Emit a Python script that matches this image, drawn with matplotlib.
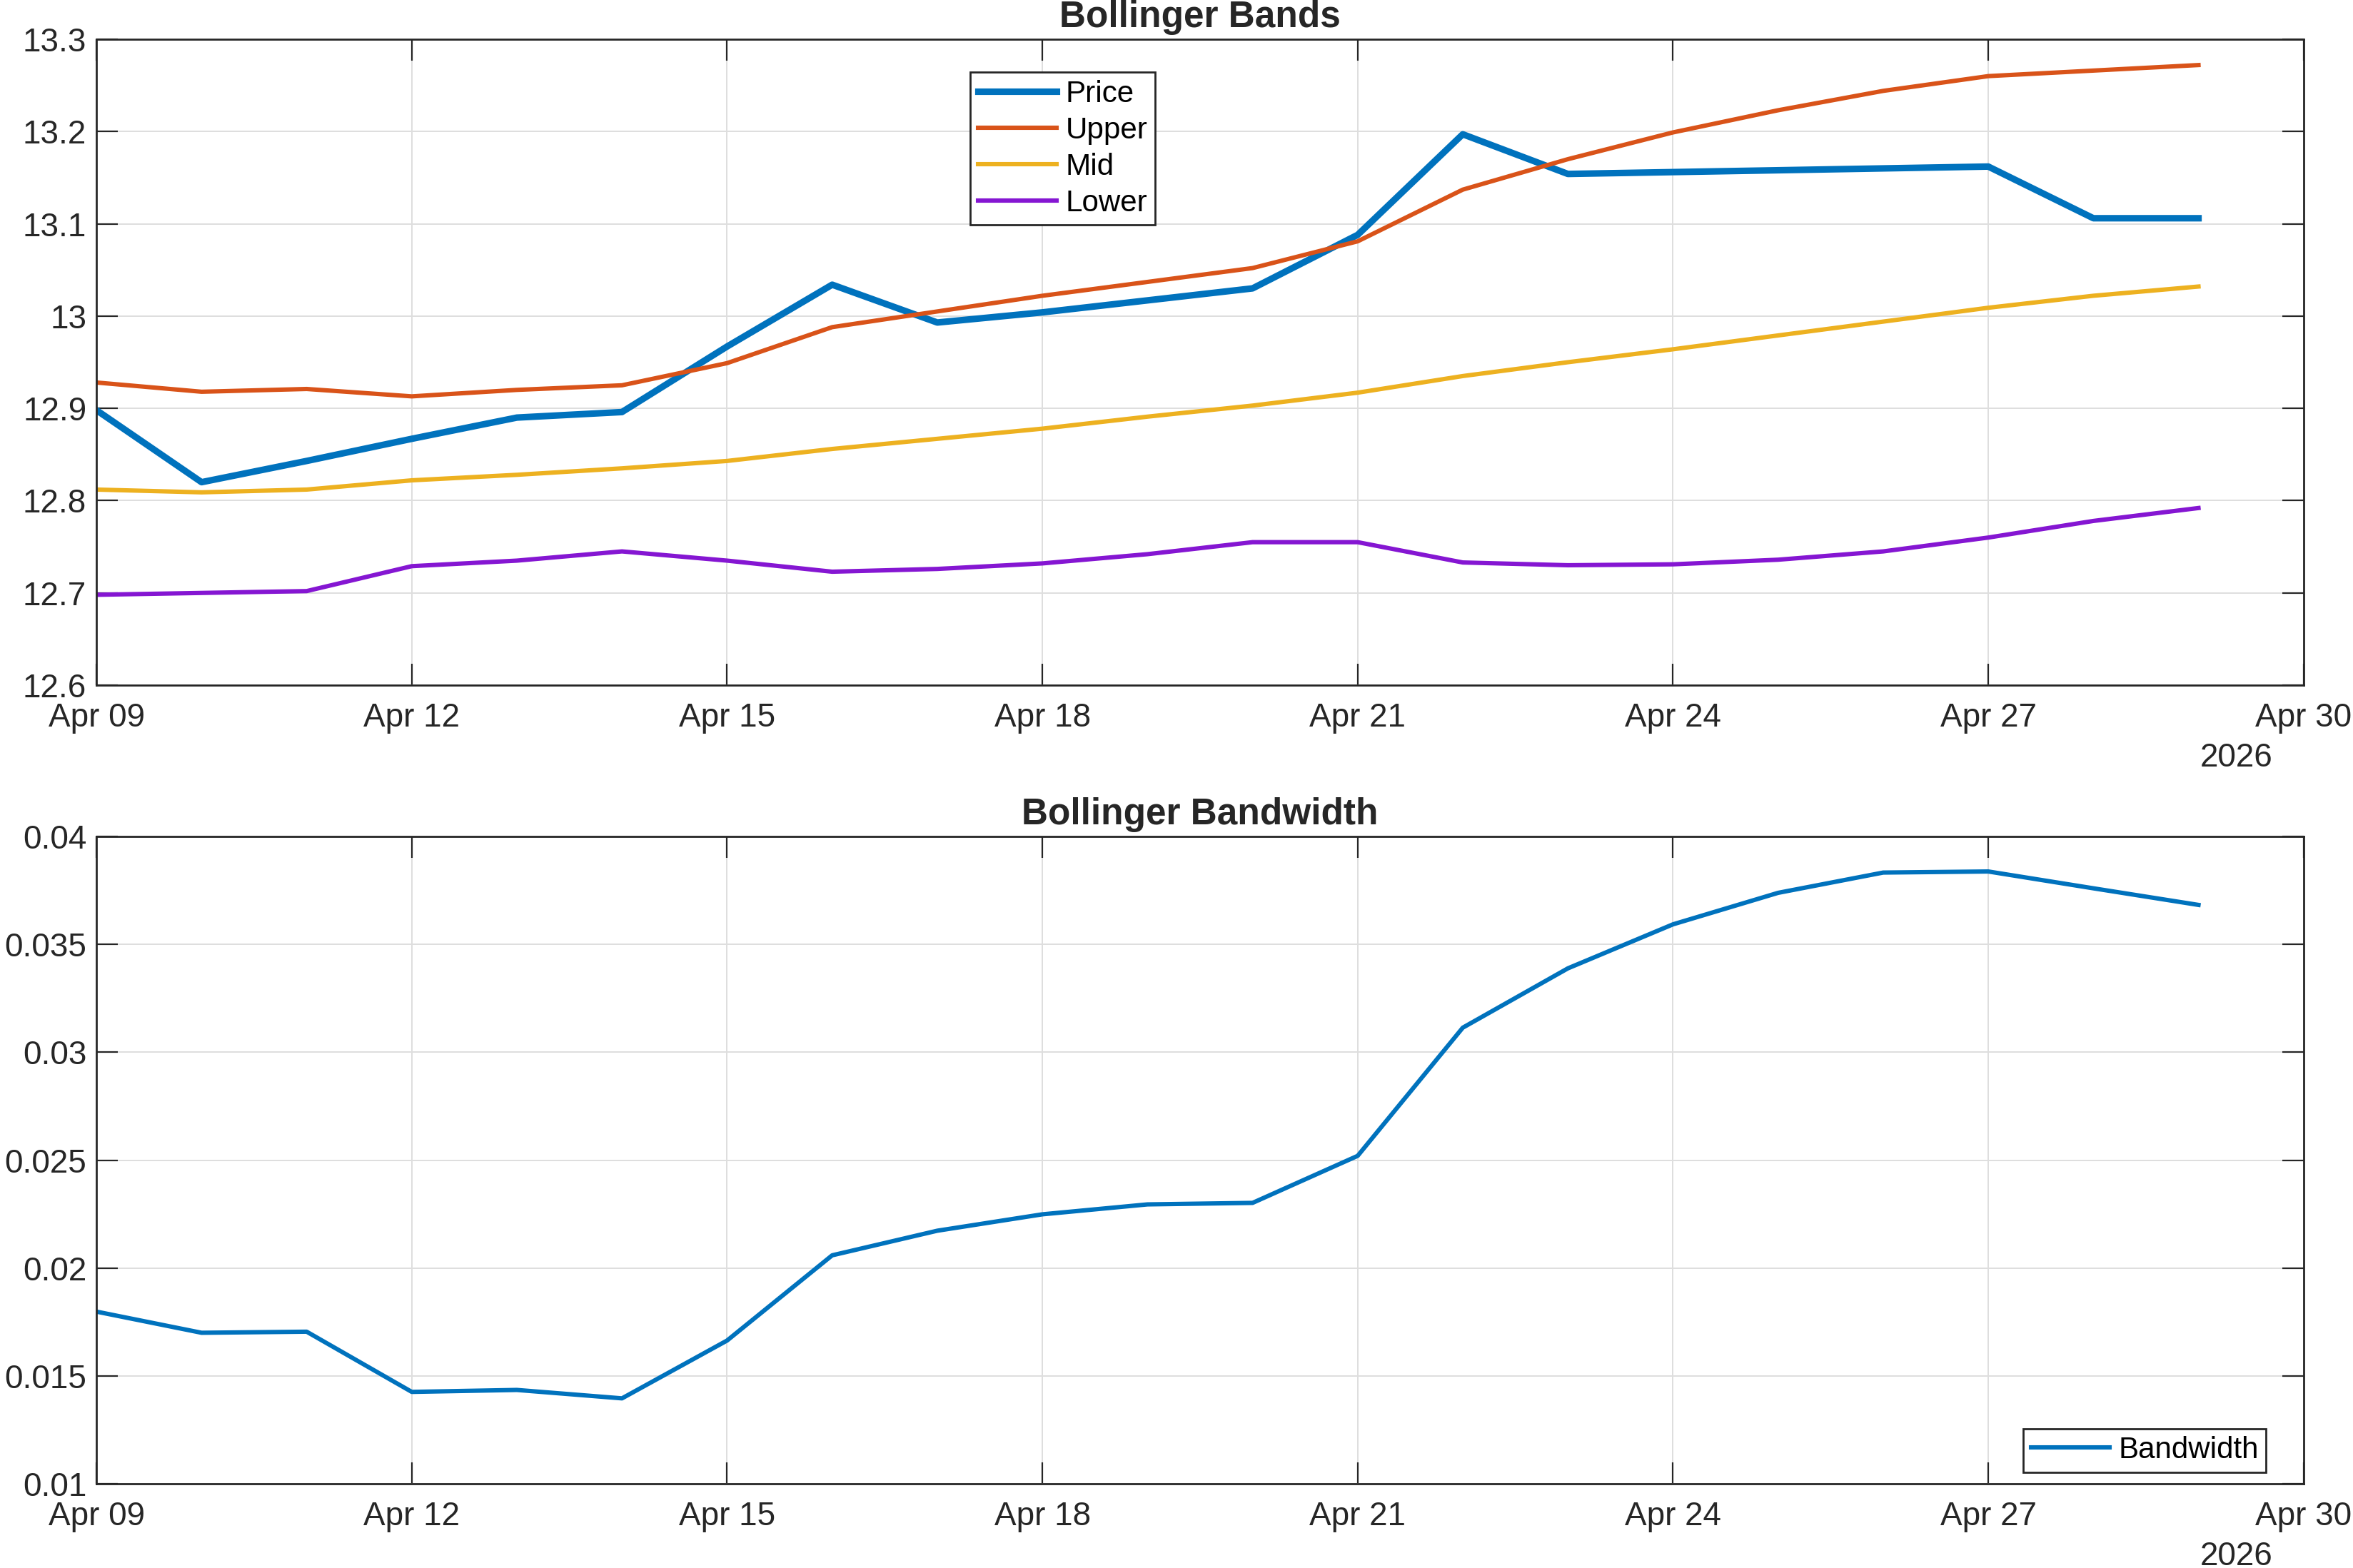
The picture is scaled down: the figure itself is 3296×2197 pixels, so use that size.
import matplotlib
matplotlib.use("Agg")
import matplotlib.pyplot as plt
import matplotlib.dates as mdates
import numpy as np
import pandas as pd

plt.rcParams["font.family"] = ["Liberation Sans", "DejaVu Sans"]

# --------------------------------------------------------------------------
# Data
# --------------------------------------------------------------------------
dates = pd.date_range("2026-04-09", "2026-04-29", freq="D")

price = [12.898, 12.820, 12.843, 12.867, 12.890, 12.896, 12.967, 13.034, 12.993,
         13.004, 13.017, 13.030, 13.088, 13.197, 13.154, 13.156, 13.158, 13.160,
         13.162, 13.106, 13.106]
upper = [12.928, 12.918, 12.921, 12.913, 12.920, 12.925, 12.949, 12.988, 13.005,
         13.022, 13.037, 13.052, 13.081, 13.137, 13.170, 13.199, 13.223, 13.244,
         13.260, 13.266, 13.272]
mid = [12.812, 12.809, 12.812, 12.822, 12.828, 12.835, 12.843, 12.856, 12.867,
       12.878, 12.891, 12.903, 12.917, 12.935, 12.950, 12.964, 12.979, 12.994,
       13.009, 13.022, 13.032]
lower = [12.698, 12.700, 12.702, 12.729, 12.735, 12.745, 12.735, 12.723, 12.726,
         12.732, 12.742, 12.755, 12.755, 12.733, 12.730, 12.731, 12.736, 12.745,
         12.760, 12.778, 12.792]
bandwidth = [0.01798, 0.01700, 0.01705, 0.01426, 0.01435, 0.01396, 0.01664, 0.02059,
             0.02173, 0.02249, 0.02295, 0.02302, 0.02520, 0.03114, 0.03389, 0.03593,
             0.03739, 0.03833, 0.03838, 0.03760, 0.03683]

xticks = pd.date_range("2026-04-09", "2026-04-30", freq="3D")
top_yticks = [12.6, 12.7, 12.8, 12.9, 13.0, 13.1, 13.2, 13.3]
top_yticklabels = ["12.6", "12.7", "12.8", "12.9", "13", "13.1", "13.2", "13.3"]
bw_yticks = [0.01, 0.015, 0.02, 0.025, 0.03, 0.035, 0.04]
bw_yticklabels = ["0.01", "0.015", "0.02", "0.025", "0.03", "0.035", "0.04"]

C_BLUE = "#0072BD"
C_ORANGE = "#D95319"
C_YELLOW = "#EDB120"
C_PURPLE = "#8516D2"
C_TEXT = "#262626"

FS = 16.5


def style_axes(ax, yticks, yticklabels, ylim):
    ax.set_xlim(pd.Timestamp("2026-04-09"), pd.Timestamp("2026-04-30"))
    ax.set_ylim(*ylim)
    ax.set_xticks(xticks)
    ax.xaxis.set_major_formatter(mdates.DateFormatter("%b %d"))
    ax.set_yticks(yticks)
    ax.set_yticklabels(yticklabels)
    ax.tick_params(direction="in", length=10.8, width=0.8, colors=C_TEXT,
                   labelsize=FS, top=True, right=True)
    ax.tick_params(axis="x", pad=8.5)
    ax.tick_params(axis="y", pad=5)
    ax.grid(True, color="#dedede", linewidth=0.7)
    ax.set_axisbelow(True)
    for sp in ax.spines.values():
        sp.set_color(C_TEXT)
        sp.set_linewidth(1.0)
    ax.text(0.986, -0.088, "2026", transform=ax.transAxes, ha="right", va="top",
            fontsize=FS, color=C_TEXT)


fig = plt.figure(figsize=(16.48, 10.985), dpi=200)
ax1 = fig.add_axes([0.041, 0.563, 0.938, 0.412])
ax2 = fig.add_axes([0.041, 0.0537, 0.938, 0.4128])

# ── Bollinger Bands ──────────────────────────────────────────────
ax1.plot(dates, price, color=C_BLUE, linewidth=3.3, label="Price")
ax1.plot(dates, upper, color=C_ORANGE, linewidth=2.2, label="Upper")
ax1.plot(dates, mid, color=C_YELLOW, linewidth=2.2, label="Mid")
ax1.plot(dates, lower, color=C_PURPLE, linewidth=2.2, label="Lower")
style_axes(ax1, top_yticks, top_yticklabels, (12.6, 13.3))
ax1.set_title("Bollinger Bands", fontsize=18.5, fontweight="bold", color=C_TEXT, pad=6)
leg1 = ax1.legend(loc="upper left", bbox_to_anchor=(0.396, 0.949), fontsize=FS * 0.92,
                  fancybox=False, framealpha=1, edgecolor=C_TEXT, handlelength=2.6,
                  handletextpad=0.3, labelspacing=0.26, borderpad=0.25,
                  borderaxespad=0)
leg1.get_frame().set_linewidth(1.0)

# ── Bollinger Bandwidth ──────────────────────────────────────────
ax2.plot(dates, bandwidth, color=C_BLUE, linewidth=2.2, label="Bandwidth")
style_axes(ax2, bw_yticks, bw_yticklabels, (0.01, 0.04))
ax2.set_title("Bollinger Bandwidth", fontsize=18.5, fontweight="bold", color=C_TEXT, pad=6)
leg2 = ax2.legend(loc="lower right", bbox_to_anchor=(0.983, 0.018), fontsize=FS * 0.92,
                  fancybox=False, framealpha=1, edgecolor=C_TEXT, handlelength=2.6,
                  handletextpad=0.3, borderpad=0.25, borderaxespad=0)
leg2.get_frame().set_linewidth(1.0)

fig.savefig("out.png", dpi=200)
